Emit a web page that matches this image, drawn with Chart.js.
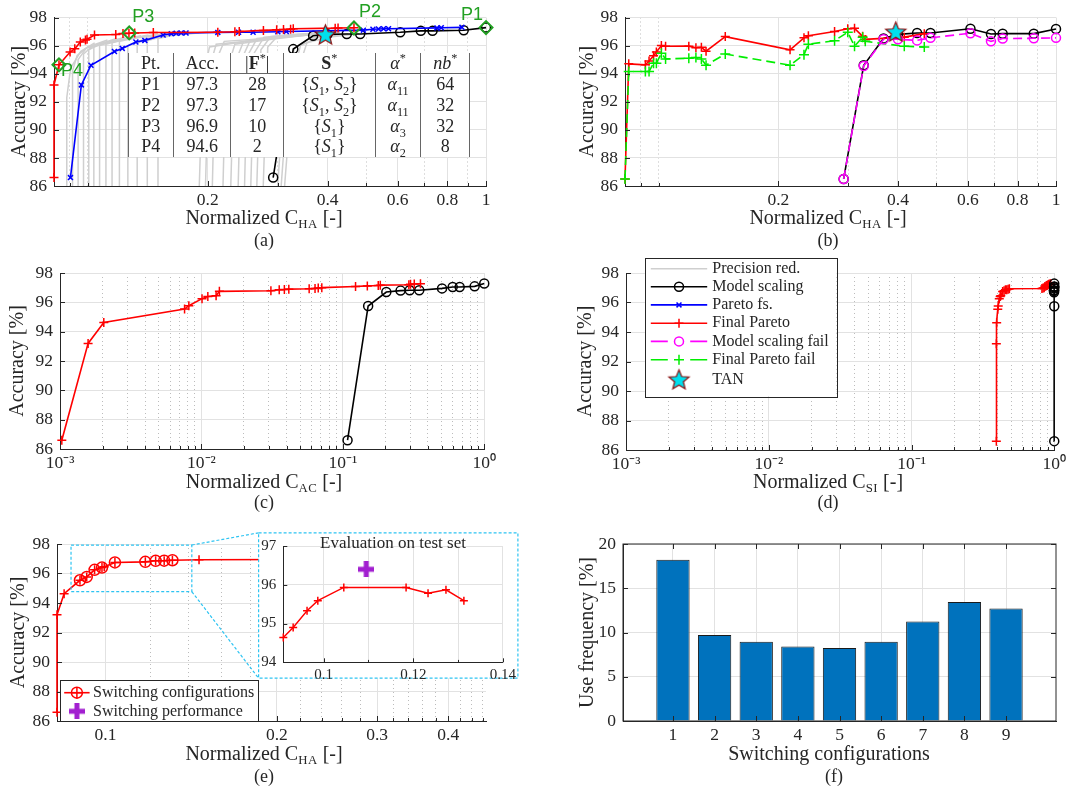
<!DOCTYPE html>
<html>
<head>
<meta charset="utf-8">
<script src="https://cdn.jsdelivr.net/npm/chart.js@4/dist/chart.umd.min.js"></script>
<style>
body { margin: 0; background: #fff; }
#fig { position: relative; width: 1070px; height: 788px; overflow: hidden; background: #fff;
       font-family: 'Liberation Serif', 'Times New Roman', serif; color: #262626; }
#fig canvas { position: absolute; }
.xt, .pl, .it { position: absolute; transform: translate(-50%, -50%); white-space: nowrap; }
.xt { font-size: 20px; }
.pl { font-size: 18px; }
.it { font-size: 17px; }
.sc { font-size: 0.64em; position: relative; top: 0.3em; letter-spacing: 0.5px; }
#ptTable { position: absolute; left: 127.5px; top: 53px; width: 342px; border-collapse: collapse;
           background: #fff; font-size: 18px; table-layout: fixed; }
#ptTable td, #ptTable th { border-left: 1px solid #666; border-right: 1px solid #666; padding: 0;
           text-align: center; font-weight: normal; height: 20.7px; line-height: 20px; }
#ptTable th { border-bottom: 1px solid #666; height: 20px; }
#ptTable sub, #ptTable sup { font-size: 0.68em; line-height: 0; }
</style>
</head>
<body>
<div id="fig">
  <canvas id="cA" width="500" height="212" style="left:0;top:0"></canvas>
  <canvas id="cB" width="510" height="212" style="left:560px;top:0"></canvas>
  <canvas id="cC" width="500" height="226" style="left:0;top:250px"></canvas>
  <canvas id="cD" width="510" height="226" style="left:560px;top:250px"></canvas>
  <canvas id="cE" width="530" height="230" style="left:0;top:515px"></canvas>
  <canvas id="cF" width="510" height="230" style="left:560px;top:515px"></canvas>
  <canvas id="cI" width="262" height="152" style="left:258px;top:530px"></canvas>

  <table id="ptTable">
    <colgroup><col style="width:45.6px"><col style="width:57.4px"><col style="width:52.6px">
      <col style="width:91.7px"><col style="width:45.7px"><col style="width:48.6px"></colgroup>
    <tbody id="ptBody"></tbody>
  </table>

  <div class="it" style="left:393px;top:543px">Evaluation on test set</div>

  <div class="xt" style="left:264px;top:217px">Normalized C<span class="sc">HA</span> [-]</div>
  <div class="pl" style="left:264px;top:240px">(a)</div>
  <div class="xt" style="left:828px;top:217px">Normalized C<span class="sc">HA</span> [-]</div>
  <div class="pl" style="left:828px;top:240px">(b)</div>
  <div class="xt" style="left:264px;top:481px">Normalized C<span class="sc">AC</span> [-]</div>
  <div class="pl" style="left:264px;top:502px">(c)</div>
  <div class="xt" style="left:828px;top:481px">Normalized C<span class="sc">SI</span> [-]</div>
  <div class="pl" style="left:828px;top:502px">(d)</div>
  <div class="xt" style="left:264px;top:753px">Normalized C<span class="sc">HA</span> [-]</div>
  <div class="pl" style="left:264px;top:776px">(e)</div>
  <div class="xt" style="left:829px;top:753px">Switching configurations</div>
  <div class="pl" style="left:834px;top:776px">(f)</div>
</div>

<script>
// ---------------- data ----------------

// Final Pareto front (validation accuracy and the three cost measures)
const paretoAcc = [86.6, 93.2, 94.63, 95.54, 95.77, 96.25, 96.4, 96.45, 96.75, 96.79, 96.86, 96.87, 96.9,
                   96.93, 96.95, 96.98, 97.0, 97.08, 97.12, 97.15, 97.17, 97.2, 97.24, 97.25, 97.27];
const paretoHA = [0.0822, 0.0822, 0.0846, 0.0902, 0.0927, 0.0957, 0.0986, 0.0995, 0.1039, 0.1175, 0.1225, 0.1268, 0.1311,
                  0.146, 0.212, 0.234, 0.240, 0.276, 0.298, 0.310, 0.323, 0.328, 0.418, 0.425, 0.466];
const paretoAC = [0.00103, 0.00158, 0.00204, 0.0076, 0.00815, 0.0101, 0.0111, 0.0127, 0.0134, 0.031, 0.0355, 0.0386, 0.0415,
                  0.0578, 0.0636, 0.067, 0.071, 0.123, 0.149, 0.178, 0.184, 0.293, 0.301, 0.32, 0.354];
const paretoSI = [0.393, 0.393, 0.395, 0.402, 0.405, 0.412, 0.418, 0.422, 0.435, 0.445, 0.455, 0.465, 0.475,
                  0.485, 0.82, 0.835, 0.85, 0.86, 0.875, 0.885, 0.895, 0.905, 0.915, 0.93, 0.945];

// Pareto feature selection
const fsHA = [0.0904, 0.0963, 0.1018, 0.1166, 0.122, 0.132, 0.139, 0.1545, 0.162, 0.1667, 0.1715, 0.1764, 0.212,
              0.239, 0.26, 0.30, 0.315, 0.492, 0.52, 0.537, 0.553, 0.569, 0.753, 0.772, 0.87];
const fsAcc = [86.6, 93.2, 94.6, 95.58, 95.8, 96.26, 96.37, 96.75, 96.85, 96.88, 96.9, 96.9, 96.94,
               96.95, 96.95, 96.98, 97.0, 97.1, 97.16, 97.18, 97.2, 97.2, 97.26, 97.27, 97.3];

// Model scaling
const scalingAcc = [86.6, 95.75, 96.7, 96.8, 96.82, 96.82, 96.95, 97.05, 97.05, 97.09, 97.28];
const scalingHA = [0.292, 0.328, 0.368, 0.40, 0.447, 0.483, 0.609, 0.686, 0.734, 0.879, 1.0];
const scalingAC = [0.108, 0.151, 0.203, 0.256, 0.297, 0.347, 0.503, 0.598, 0.67, 0.855, 1.0];
const scalingSI = [1.0, 1.0, 0.997, 0.995, 0.998, 0.996, 0.999, 0.997, 0.998, 1.0, 1.0];
const scalingTestAcc = [86.5, 94.6, 96.5, 96.8, 96.9, 96.9, 97.2, 96.82, 96.85, 96.85, 97.18];
const scalingFailAcc = [86.5, 94.55, 96.45, 96.45, 96.37, 96.55, 96.88, 96.3, 96.5, 96.52, 96.55];

// Final Pareto evaluated in panel (b)
const testHA = [0.0822, 0.0840, 0.0925, 0.0945, 0.0970, 0.0986, 0.1015, 0.1040, 0.1190, 0.1240, 0.1280, 0.1315,
                0.1470, 0.2140, 0.2320, 0.2380, 0.2770, 0.2990, 0.3110, 0.3260, 0.3310, 0.4150, 0.4660];
const testParetoAcc = [86.5, 94.7, 94.63, 94.9, 95.27, 95.54, 96.0, 95.95, 95.96, 95.85, 95.88, 95.6,
                       96.64, 95.7, 96.55, 96.7, 97.0, 97.2, 97.23, 96.66, 96.44, 96.6, 96.85];
const testFailAcc = [86.5, 94.15, 94.15, 94.15, 94.75, 94.75, 95.45, 95.05, 95.1, 95.15, 95.05, 94.6,
                     95.4, 94.6, 95.35, 96.1, 96.35, 96.95, 95.95, 96.6, 96.3, 95.95, 95.9];

// TAN reference
const tanHA = [0.395];
const tanAcc = [96.8];
const tanTestAcc = [97.0];

// Highlighted points and their table
const pointNames = ['P1', 'P2', 'P3', 'P4'];
const pointHA = [1.0, 0.466, 0.127, 0.0846];
const pointAcc = [97.28, 97.25, 96.9, 94.63];
const tableAcc = [97.3, 97.3, 96.9, 94.6];
const tableFeatures = [28, 17, 10, 2];
const tableSensors = [['1', '2'], ['1', '2'], ['1'], ['1']];
const tableAlpha = ['11', '11', '3', '2'];
const tableNb = [64, 32, 32, 8];

// Precision reduction paths (x = normalized C_HA, y = accuracy)
const precisionPaths = [
  [[0.0885, 85], [0.0885, 92.3], [0.0905, 94.4], [0.096, 95.6], [0.104, 96.2]],
  [[0.0915, 85], [0.0915, 94.2], [0.094, 95.3], [0.10, 95.9], [0.112, 96.4]],
  [[0.0945, 85], [0.0945, 95.0], [0.099, 95.8], [0.118, 96.5]],
  [[0.0975, 85], [0.0975, 95.4], [0.103, 96.0], [0.124, 96.6]],
  [[0.1005, 85], [0.1005, 95.7], [0.107, 96.1], [0.13, 96.6]],
  [[0.1035, 85], [0.1035, 95.9], [0.111, 96.2], [0.136, 96.7]],
  [[0.107, 85], [0.107, 96.0], [0.116, 96.3], [0.142, 96.75]],
  [[0.111, 85], [0.111, 96.1], [0.121, 96.4], [0.15, 96.8]],
  [[0.115, 85], [0.115, 96.2], [0.127, 96.5], [0.158, 96.85]],
  [[0.12, 85], [0.12, 96.3], [0.133, 96.55], [0.165, 96.85]],
  [[0.126, 85], [0.126, 96.0], [0.14, 96.5], [0.172, 96.9]],
  [[0.133, 85], [0.133, 96.2], [0.148, 96.6], [0.18, 96.9]],
  [[0.141, 85], [0.141, 96.35], [0.156, 96.7], [0.19, 96.92]],
  [[0.15, 85], [0.15, 96.5], [0.165, 96.75], [0.2, 96.95]],
  [[0.19, 85], [0.194, 93.5], [0.202, 95.9], [0.25, 96.3], [0.33, 96.75]],
  [[0.197, 85], [0.201, 94.2], [0.21, 96.1], [0.27, 96.4], [0.35, 96.8]],
  [[0.205, 85], [0.209, 94.8], [0.22, 96.3], [0.28, 96.5], [0.36, 96.8]],
  [[0.218, 85], [0.222, 94.0], [0.234, 96.1], [0.29, 96.45], [0.37, 96.8]],
  [[0.228, 85], [0.233, 94.6], [0.246, 96.3], [0.30, 96.55], [0.38, 96.85]],
  [[0.238, 85], [0.243, 95.0], [0.256, 96.4], [0.31, 96.6], [0.39, 96.85]],
  [[0.247, 85], [0.252, 95.3], [0.266, 96.5], [0.32, 96.7], [0.40, 96.9]],
  [[0.256, 85], [0.262, 95.5], [0.277, 96.6], [0.33, 96.75], [0.41, 96.9]],
  [[0.265, 85], [0.272, 95.7], [0.288, 96.65], [0.34, 96.8], [0.42, 96.95]],
  [[0.275, 85], [0.283, 95.9], [0.30, 96.7], [0.35, 96.85], [0.43, 96.95]],
  [[0.298, 85], [0.31, 92.0], [0.33, 95.8], [0.36, 96.5], [0.42, 96.8]],
  [[0.304, 85], [0.318, 92.5], [0.342, 96.0], [0.38, 96.6], [0.45, 96.85]],
  [[0.31, 85], [0.326, 93.0], [0.355, 96.2], [0.40, 96.6], [0.48, 96.85]]
];

// Switching configurations (e) and the test-set inset
const switchHA = [0.0902, 0.0927, 0.0957, 0.0986, 0.1039, 0.1175, 0.1225, 0.1268, 0.1311];
const switchAcc = [95.54, 95.77, 96.25, 96.4, 96.75, 96.79, 96.86, 96.87, 96.9];
const insetHA = [0.091, 0.0932, 0.0963, 0.0987, 0.1045, 0.1184, 0.1233, 0.1273, 0.1313];
const insetAcc = [94.64, 94.9, 95.33, 95.59, 95.93, 95.93, 95.78, 95.87, 95.59];
const switchPerfHA = [0.1095];
const switchPerfAcc = [96.4];
const zoomBox = [0.087, 0.1418, 94.77, 97.93]; // xmin, xmax, ymin, ymax of the zoomed region

// Use frequency (f)
const configNums = [1, 2, 3, 4, 5, 6, 7, 8, 9];
const useFreq = [18.22, 9.72, 8.96, 8.43, 8.24, 8.96, 11.23, 13.46, 12.7];

// Tick definitions
const accTicks = [86, 88, 90, 92, 94, 96, 98];
const haMajor = [0.2, 0.4, 0.6, 0.8, 1];
const haLabels = ['0.2', '0.4', '0.6', '0.8', '1'];
const haMinor = [0.09, 0.1, 0.3, 0.5, 0.7, 0.9];
const decMajor = [0.001, 0.01, 0.1, 1];
const decLabels = ['10\u207B\u00B3', '10\u207B\u00B2', '10\u207B\u00B9', '10\u2070'];
const decMinor = [0.002, 0.003, 0.004, 0.005, 0.006, 0.007, 0.008, 0.009,
                  0.02, 0.03, 0.04, 0.05, 0.06, 0.07, 0.08, 0.09,
                  0.2, 0.3, 0.4, 0.5, 0.6, 0.7, 0.8, 0.9];
const zMajor = [0.1, 0.2, 0.3, 0.4];
const zLabels = ['0.1', '0.2', '0.3', '0.4'];
const zMinor = [0.12, 0.14, 0.16, 0.18, 0.22, 0.24, 0.26, 0.28, 0.32, 0.34, 0.36, 0.38, 0.42, 0.44, 0.46];
const insetXTicks = [0.1, 0.11, 0.12, 0.13, 0.14];
const insetXLabels = ['0.1', '', '0.12', '', '0.14'];
const insetYTicks = [94, 95, 96, 97];
const freqTicks = [0, 5, 10, 15, 20];

// ---------------- styles ----------------
const FONT = "'Liberation Serif', 'Times New Roman', serif";
const SANS = "'Liberation Sans', Arial, sans-serif";
const AX = '#262626';
const GRID = '#e2e2e2';
const MINOR = '#bcbcbc';
const RED = '#ff0000', BLUE = '#0000ff', MAG = '#ff00ff', LIME = '#00ee00', GRAY = '#cfcfcf';
const PGREEN = '#22a022', CYAN = '#2ec4f2', PURPLE = '#a21fd0', BARBLUE = '#0072bd';

Chart.defaults.font.family = FONT;
Chart.defaults.color = AX;

function makeStar(r) {
  const s = Math.ceil(2 * r + 6), c = document.createElement('canvas');
  c.width = s; c.height = s;
  const g = c.getContext('2d');
  g.beginPath();
  for (let i = 0; i < 10; i++) {
    const a = -Math.PI / 2 + i * Math.PI / 5, rr = i % 2 ? r * 0.44 : r;
    g.lineTo(s / 2 + rr * Math.cos(a), s / 2 + 1 + rr * Math.sin(a));
  }
  g.closePath();
  g.fillStyle = '#00e0ee'; g.fill();
  g.lineWidth = 1.2; g.strokeStyle = '#8b1010'; g.stroke();
  return c;
}

function makePlus(size, t, color) {
  const c = document.createElement('canvas');
  c.width = size; c.height = size;
  const g = c.getContext('2d');
  g.fillStyle = color;
  g.fillRect((size - t) / 2, 0, t, size);
  g.fillRect(0, (size - t) / 2, size, t);
  return c;
}

const starImg = makeStar(10.5);
const plusImg = makePlus(16, 5, PURPLE);

function pts(xs, ys) {
  return xs.map((x, i) => ({ x: x, y: ys[i] }));
}

function series(data, color, marker, r, extra) {
  return Object.assign({
    data: data, borderColor: color, backgroundColor: color, borderWidth: 1.6,
    pointStyle: marker, pointRadius: r, pointBorderColor: color,
    pointBackgroundColor: 'rgba(0,0,0,0)', pointBorderWidth: 1.5,
    clip: false, tension: 0, fill: false
  }, extra || {});
}

function xScale(type, min, max, major, labels, minor, xH, size) {
  const all = major.concat(minor).sort((a, b) => a - b);
  const isMinor = c => c.tick && minor.includes(c.tick.value);
  return {
    type: type, min: min, max: max, offset: false,
    afterBuildTicks: s => { s.ticks = all.map(v => ({ value: v })); },
    afterFit: s => { s.height = xH; },
    ticks: {
      autoSkip: false, maxRotation: 0, minRotation: 0, padding: 4, font: { size: size },
      callback: v => { const i = major.indexOf(v); return i < 0 ? '' : labels[i]; }
    },
    grid: { drawTicks: false, offset: false, color: c => isMinor(c) ? MINOR : GRID },
    border: { color: AX, width: 1, dash: c => isMinor(c) ? [1, 3] : [] }
  };
}

function yScale(min, max, ticks, yW, title, titlePad, size) {
  return {
    type: 'linear', min: min, max: max,
    afterBuildTicks: s => { s.ticks = ticks.map(v => ({ value: v })); },
    afterFit: s => { s.width = yW; },
    ticks: { padding: 7, font: { size: size }, callback: v => String(v) },
    grid: { drawTicks: false, color: GRID },
    border: { color: AX, width: 1 },
    title: title ? { display: true, text: title, font: { size: 20 }, padding: { top: titlePad, bottom: 0 } }
                 : { display: false }
  };
}

// inward MATLAB-style tick marks (and optional box)
const matlabFrame = {
  id: 'matlabFrame',
  afterDraw(chart, args, o) {
    const { ctx, chartArea: a, scales } = chart;
    const L = o.len || 5;
    ctx.save();
    ctx.strokeStyle = AX; ctx.lineWidth = 1;
    ctx.beginPath();
    scales.x.ticks.forEach(t => {
      const p = Math.round(scales.x.getPixelForValue(t.value)) + 0.5;
      const l = t.label ? L : L * 0.6;
      ctx.moveTo(p, a.bottom); ctx.lineTo(p, a.bottom - l);
      if (o.box) { ctx.moveTo(p, a.top); ctx.lineTo(p, a.top + l); }
    });
    scales.y.ticks.forEach(t => {
      const p = Math.round(scales.y.getPixelForValue(t.value)) + 0.5;
      ctx.moveTo(a.left, p); ctx.lineTo(a.left + L, p);
      if (o.box) { ctx.moveTo(a.right, p); ctx.lineTo(a.right - L, p); }
    });
    ctx.stroke();
    if (o.box) ctx.strokeRect(a.left, a.top, a.right - a.left, a.bottom - a.top);
    ctx.restore();
  }
};

// green P1..P4 labels next to the diamonds
const pointLabels = {
  id: 'pointLabels',
  afterDatasetsDraw(chart, args, o) {
    const { ctx, scales: { x, y } } = chart;
    ctx.save();
    ctx.font = '18px ' + SANS; ctx.fillStyle = PGREEN;
    ctx.textAlign = 'center'; ctx.textBaseline = 'middle';
    pointNames.forEach((n, i) => {
      ctx.fillText(n, x.getPixelForValue(pointHA[i]) + o.dx[i], y.getPixelForValue(pointAcc[i]) + o.dy[i]);
    });
    ctx.restore();
  }
};

function drawMarker(ctx, m, x, y, r, color) {
  if (m instanceof HTMLCanvasElement) { ctx.drawImage(m, x - m.width / 2, y - m.height / 2); return; }
  ctx.save();
  ctx.strokeStyle = color; ctx.lineWidth = 1.5; ctx.setLineDash([]);
  ctx.beginPath();
  if (m === 'circle') ctx.arc(x, y, r, 0, 2 * Math.PI);
  else if (m === 'cross') { ctx.moveTo(x - r, y); ctx.lineTo(x + r, y); ctx.moveTo(x, y - r); ctx.lineTo(x, y + r); }
  else if (m === 'crossRot') {
    const d = r * Math.SQRT1_2;
    ctx.moveTo(x - d, y - d); ctx.lineTo(x + d, y + d); ctx.moveTo(x - d, y + d); ctx.lineTo(x + d, y - d);
  }
  ctx.stroke();
  ctx.restore();
}

// boxed legend at a fixed spot of the canvas
const boxLegend = {
  id: 'boxLegend',
  afterDraw(chart, args, o) {
    const ctx = chart.ctx, b = o.box;
    ctx.save();
    ctx.fillStyle = '#fff'; ctx.fillRect(b[0], b[1], b[2] - b[0], b[3] - b[1]);
    ctx.strokeStyle = AX; ctx.lineWidth = 1;
    ctx.strokeRect(Math.round(b[0]) + 0.5, Math.round(b[1]) + 0.5, Math.round(b[2] - b[0]), Math.round(b[3] - b[1]));
    o.items.forEach((it, i) => {
      const y = o.rows[i], mid = (o.line[0] + o.line[1]) / 2;
      if (it.color && !it.noLine) {
        ctx.strokeStyle = it.color; ctx.lineWidth = 1.6;
        ctx.beginPath();
        if (it.dashed) {
          ctx.moveTo(o.line[0], y); ctx.lineTo(o.line[0] + 17, y);
          ctx.moveTo(o.line[1] - 17, y); ctx.lineTo(o.line[1], y);
        } else {
          ctx.moveTo(o.line[0], y); ctx.lineTo(o.line[1], y);
        }
        ctx.stroke();
      }
      (it.markers || []).forEach(m => drawMarker(ctx, m, mid, y, it.r || 4.5, it.color));
      ctx.fillStyle = AX; ctx.font = (o.fontSize || 16) + 'px ' + FONT;
      ctx.textBaseline = 'middle'; ctx.textAlign = 'left';
      ctx.fillText(it.text, o.textX, y);
    });
    ctx.restore();
  }
};

// zoom rectangle, connector lines and white inset background in (e)
const zoomInset = {
  id: 'zoomInset',
  afterDraw(chart, args, o) {
    const { ctx, scales: { x, y } } = chart;
    const x0 = x.getPixelForValue(zoomBox[0]), x1 = x.getPixelForValue(zoomBox[1]);
    const y0 = y.getPixelForValue(zoomBox[3]), y1 = y.getPixelForValue(zoomBox[2]);
    const b = o.box;
    ctx.save();
    ctx.fillStyle = '#fff'; ctx.fillRect(b[0], b[1], b[2] - b[0], b[3] - b[1]);
    ctx.strokeStyle = CYAN; ctx.lineWidth = 1.2; ctx.setLineDash([3, 2]);
    ctx.strokeRect(x0, y0, x1 - x0, y1 - y0);
    ctx.strokeRect(b[0], b[1], b[2] - b[0], b[3] - b[1]);
    ctx.beginPath();
    ctx.moveTo(x1, y0); ctx.lineTo(b[0], b[1]);
    ctx.moveTo(x1, y1); ctx.lineTo(b[0], b[3]);
    ctx.stroke();
    ctx.restore();
  }
};

function makeChart(id, type, datasets, scales, pad, plugins, pluginOpts) {
  return new Chart(document.getElementById(id), {
    type: type,
    data: { datasets: datasets },
    options: {
      responsive: false, animation: false, devicePixelRatio: 1,
      events: [],
      layout: { padding: { top: pad[0], right: pad[1], bottom: 0, left: 0 } },
      scales: scales,
      plugins: Object.assign({ legend: { display: false }, tooltip: { enabled: false } }, pluginOpts)
    },
    plugins: plugins
  });
}

// ---------------- table in (a) ----------------
let rows = '<tr><th>Pt.</th><th>Acc.</th><th>|<b>F</b><sup>*</sup>|</th><th><b>S</b><sup>*</sup></th>' +
           '<th><i>\u03B1</i><sup>*</sup></th><th><i>nb</i><sup>*</sup></th></tr>';
pointNames.forEach((n, i) => {
  const s = '{' + tableSensors[i].map(k => '<i>S</i><sub>' + k + '</sub>').join(', ') + '}';
  rows += '<tr><td>' + n + '</td><td>' + tableAcc[i].toFixed(1) + '</td><td>' + tableFeatures[i] + '</td><td>' + s +
          '</td><td><i>\u03B1</i><sub>' + tableAlpha[i] + '</sub></td><td>' + tableNb[i] + '</td></tr>';
});
document.getElementById('ptBody').innerHTML = rows;

// ---------------- (a) ----------------
const grayDs = precisionPaths.map(p => ({
  data: p.map(q => ({ x: q[0], y: q[1] })), borderColor: GRAY, borderWidth: 1.5, pointRadius: 0, order: 10
}));
makeChart('cA', 'line', grayDs.concat([
  series(pts(scalingHA, scalingAcc), '#000', 'circle', 4.5, { order: 5 }),
  series(pts(fsHA, fsAcc), BLUE, 'crossRot', 3.5, { order: 4 }),
  series(pts(paretoHA, paretoAcc), RED, 'cross', 4.5, { order: 3 }),
  series(pts(tanHA, tanAcc), '#8b1010', starImg, 10, { showLine: false, order: 2 }),
  series(pts(pointHA, pointAcc), PGREEN, 'rectRot', 6.5, { showLine: false, pointBorderWidth: 2, order: 1 })
]), {
  x: xScale('logarithmic', 0.0822, 1, haMajor, haLabels, haMinor, 26, 17.5),
  y: yScale(86, 98, accTicks, 54, 'Accuracy [%]', 8, 17.5)
}, [9, 14], [matlabFrame, pointLabels], {
  matlabFrame: { box: false },
  pointLabels: { dx: [-14, 16, 14, 13], dy: [-13, -16, -16, 6] }
});

// ---------------- (b) ----------------
makeChart('cB', 'line', [
  series(pts(scalingHA, scalingTestAcc), '#000', 'circle', 4.5, { order: 4 }),
  series(pts(testHA, testParetoAcc), RED, 'cross', 4.5, { order: 3 }),
  series(pts(testHA, testFailAcc), LIME, 'cross', 5, { borderDash: [9, 5], order: 2 }),
  series(pts(scalingHA, scalingFailAcc), MAG, 'circle', 4.5, { borderDash: [9, 5], order: 1 }),
  series(pts(tanHA, tanTestAcc), '#8b1010', starImg, 10, { showLine: false, order: 0 })
], {
  x: xScale('logarithmic', 0.0822, 1, haMajor, haLabels, haMinor, 26, 17.5),
  y: yScale(86, 98, accTicks, 65, 'Accuracy [%]', 16, 17.5)
}, [10, 14], [matlabFrame], { matlabFrame: { box: false } });

// ---------------- (c) ----------------
makeChart('cC', 'line', [
  series(pts(scalingAC, scalingAcc), '#000', 'circle', 4.5, { order: 2 }),
  series(pts(paretoAC, paretoAcc), RED, 'cross', 4.5, { order: 1 })
], {
  x: xScale('logarithmic', 0.001, 1, decMajor, decLabels, decMinor, 27, 17.5),
  y: yScale(86, 98, accTicks, 60, 'Accuracy [%]', 6, 17.5)
}, [23, 14], [matlabFrame], { matlabFrame: { box: false } });

// ---------------- (d) ----------------
makeChart('cD', 'line', [
  series(pts(scalingSI, scalingAcc), '#000', 'circle', 4.5, { order: 1 }),
  series(pts(paretoSI, paretoAcc), RED, 'cross', 4.5, { order: 2 })
], {
  x: xScale('logarithmic', 0.001, 1, decMajor, decLabels, decMinor, 26, 17.5),
  y: yScale(86, 98, accTicks, 66, 'Accuracy [%]', 13.6, 17.5)
}, [23, 14], [matlabFrame, boxLegend], {
  matlabFrame: { box: false },
  boxLegend: {
    box: [84.8, 7.6, 276.3, 146.2],
    rows: [18.7, 36.7, 54.9, 73.2, 91.4, 109.7, 129.3],
    line: [90.8, 147.2], textX: 152.3, fontSize: 16,
    items: [
      { text: 'Precision red.', color: GRAY },
      { text: 'Model scaling', color: '#000', markers: ['circle'] },
      { text: 'Pareto fs.', color: BLUE, markers: ['crossRot'], r: 3.5 },
      { text: 'Final Pareto', color: RED, markers: ['cross'] },
      { text: 'Model scaling fail', color: MAG, dashed: true, markers: ['circle'] },
      { text: 'Final Pareto fail', color: LIME, dashed: true, markers: ['cross'], r: 5 },
      { text: 'TAN', noLine: true, markers: [starImg] }
    ]
  }
});

// ---------------- (e) ----------------
makeChart('cE', 'line', [
  series(pts(paretoHA, paretoAcc), RED, 'cross', 4.5, { order: 2 }),
  series(pts(switchHA, switchAcc), RED, 'circle', 5.5, { showLine: false, order: 1 })
], {
  x: xScale('logarithmic', 0.0822, 0.466, zMajor, zLabels, zMinor, 24, 17.5),
  y: yScale(86, 98, accTicks, 57, 'Accuracy [%]', 6.6, 17.5)
}, [29, 44], [matlabFrame, zoomInset, boxLegend], {
  matlabFrame: { box: false },
  zoomInset: { box: [258.6, 17.8, 517.9, 163.2] },
  boxLegend: {
    box: [60.2, 165.2, 258.6, 206],
    rows: [177.7, 196.3],
    line: [64.2, 89.6], textX: 93, fontSize: 16,
    items: [
      { text: 'Switching configurations', color: RED, markers: ['cross', 'circle'], r: 5.5 },
      { text: 'Switching performance', noLine: true, markers: [plusImg] }
    ]
  }
});

// inset of (e)
makeChart('cI', 'line', [
  series(pts(insetHA, insetAcc), RED, 'cross', 4, { borderWidth: 1.4, order: 2 }),
  series(pts(switchPerfHA, switchPerfAcc), PURPLE, plusImg, 9, { showLine: false, order: 1 })
], {
  x: xScale('linear', 0.091, 0.14, insetXTicks, insetXLabels, [], 19.7, 15),
  y: yScale(94, 97, insetYTicks, 25.3, null, 0, 15)
}, [14, 15.6], [matlabFrame], { matlabFrame: { box: false, len: 4 } });

// ---------------- (f) ----------------
makeChart('cF', 'bar', [{
  data: pts(configNums, useFreq), backgroundColor: BARBLUE, borderColor: '#1a1a1a', borderWidth: 1,
  barPercentage: 0.8, categoryPercentage: 1
}], {
  x: xScale('linear', -0.2, 10.2, configNums, configNums.map(String), [], 24, 17.5),
  y: yScale(0, 20, freqTicks, 63, 'Use frequency [%]', 15.3, 17.5)
}, [29, 14], [matlabFrame], { matlabFrame: { box: true } });
</script>
</body>
</html>
